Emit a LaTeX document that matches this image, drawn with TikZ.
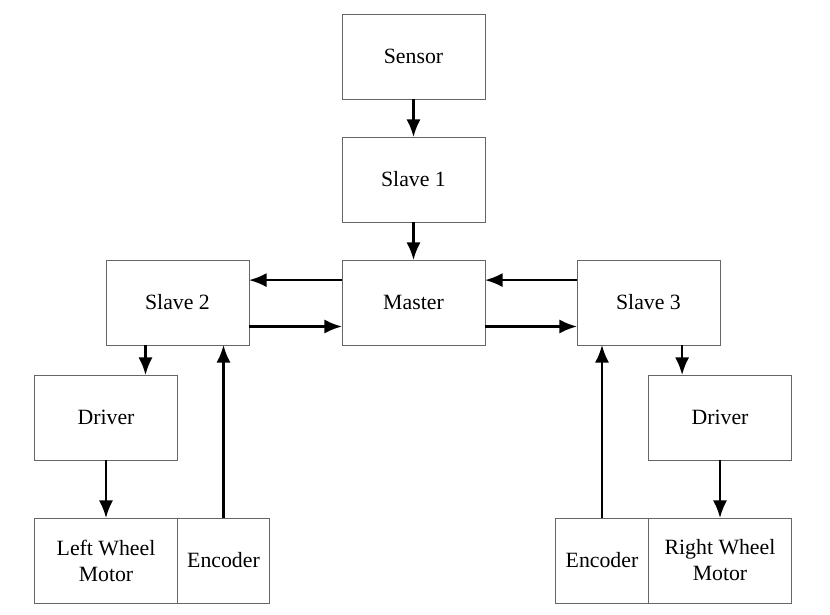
\documentclass[tikz,border=0pt]{standalone}
\usepackage{fontspec}
\setmainfont{Liberation Serif}
\usepackage{tikz}
\usetikzlibrary{positioning, arrows.meta, calc}
\tikzset{
    block/.style={draw=black!60, line width=0.6pt, rectangle, minimum width=3.575cm,
      minimum height=2.125cm, inner sep=0pt, outer sep=0pt, align=center,
      font=\fontsize{15.5}{18.5}\selectfont},
    arr/.style={draw=black, line width=1.6pt, -{Latex[length=12.5pt, width=10pt]}},
}

\begin{document}
\begin{tikzpicture}
    \useasboundingbox (0,0) rectangle (20.75,-15.35);

    \node[block] at (10.3375,-1.4125) (sensor) {Sensor};
    \node[block, below=0.95cm of sensor] (slave1) {Slave 1};
    \node[block, below=0.95cm of slave1] (master) {Master};
    \node[block, left=2.325cm of master] (slave2) {Slave 2};
    \node[block, right=2.3cm of master] (slave3) {Slave 3};

    \draw (sensor) edge[arr] (slave1);
    \draw (slave1) edge[arr] (master);

    \draw[arr] ([yshift=0.56cm]master.west) -- ([yshift=0.56cm]slave2.east);
    \draw[arr] ([yshift=-0.6cm]slave2.east) -- ([yshift=-0.6cm]master.west);
    \draw[arr] ([yshift=0.56cm]slave3.west) -- ([yshift=0.56cm]master.east);
    \draw[arr] ([yshift=-0.6cm]master.east) -- ([yshift=-0.6cm]slave3.west);

    % left wheel
    \node[block, below=0.75cm of slave2.south west] (driverL) {Driver};
    \node[block, below=1.45cm of driverL] (motorL) {Left Wheel\\Motor};
    \node[block, minimum width=2.3cm, right=0pt of motorL] (encL) {Encoder};

    \coordinate (s2d) at ([xshift=-0.8cm]slave2.south);
    \draw[arr] (s2d) -- (s2d |- driverL.north);
    \draw (driverL) edge[arr] (motorL);
    \draw[arr] (encL.north) -- (encL.north |- slave2.south);

    % right wheel
    \node[block, below=0.75cm of slave3.south east] (driverR) {Driver};
    \node[block, below=1.45cm of driverR] (motorR) {Right Wheel\\Motor};
    \node[block, minimum width=2.325cm, left=0pt of motorR] (encR) {Encoder};

    \coordinate (s3d) at ([xshift=0.84cm]slave3.south);
    \draw[arr] (s3d) -- (s3d |- driverR.north);
    \draw (driverR) edge[arr] (motorR);
    \draw[arr] (encR.north) -- (encR.north |- slave3.south);

\end{tikzpicture}
\end{document}
